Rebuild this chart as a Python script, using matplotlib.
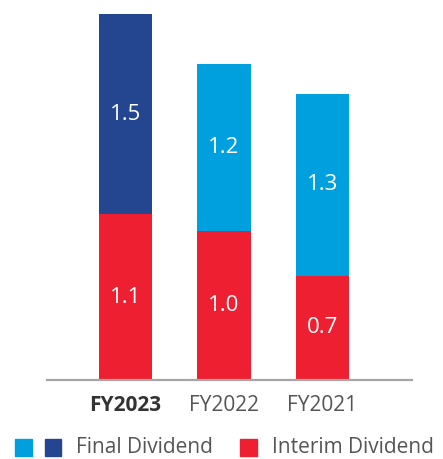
import matplotlib
matplotlib.use("Agg")
import matplotlib.pyplot as plt
from matplotlib.patches import Rectangle

plt.rcParams['font.family'] = ['Open Sans', 'DejaVu Sans']

categories = ["FY2023", "FY2022", "FY2021"]
interim_values = [1.16, 1.04, 0.73]      # bar heights
final_values = [1.40, 1.17, 1.27]
interim_labels = ["1.1", "1.0", "0.7"]
final_labels = ["1.5", "1.2", "1.3"]

RED = "#ED1F30"
DARK_BLUE = "#24458F"
LIGHT_BLUE = "#00A0DF"
final_colors = [DARK_BLUE, LIGHT_BLUE, LIGHT_BLUE]

W, H = 443, 459
fig = plt.figure(figsize=(W / 100, H / 100), dpi=100)
ax = fig.add_axes([47 / W, (H - 380) / H, (412 - 47) / W, 380 / H])

x = list(range(len(categories)))
width = 0.54
ax.bar(x, interim_values, width=width, color=RED, zorder=2)
ax.bar(x, final_values, width=width, bottom=interim_values, color=final_colors, zorder=2)

for i in x:
    ax.text(i, interim_values[i] / 2, interim_labels[i], ha="center", va="center",
            color="white", fontsize=16)
    ax.text(i, interim_values[i] + final_values[i] / 2, final_labels[i], ha="center",
            va="center", color="white", fontsize=16)

ax.set_xlim(-0.797, 2.909)
ax.set_ylim(0, 380 / 143)
for s in ["top", "right", "left"]:
    ax.spines[s].set_visible(False)
ax.spines["bottom"].set_color("#A6A6A6")
ax.spines["bottom"].set_linewidth(1.6)
ax.set_yticks([])
ax.set_xticks(x)
ax.set_xticklabels(categories, fontsize=15, color="#555555")
ax.get_xticklabels()[0].set_fontweight("bold")
ax.get_xticklabels()[0].set_color("#333333")
ax.tick_params(axis="x", length=0, pad=11)

# legend
def sq(px, color):
    fig.patches.append(Rectangle((px / W, (H - 456) / H), 16.5 / W, 17 / H,
                                 transform=fig.transFigure, color=color))
sq(15, LIGHT_BLUE)
sq(45, DARK_BLUE)
sq(240, RED)
ty = (H - 447.5) / H
fig.text(76 / W, ty, "Final Dividend", fontsize=15, color="#555555", va="center")
fig.text(272 / W, ty, "Interim Dividend", fontsize=15, color="#555555", va="center")

fig.savefig("out.png", dpi=100)
